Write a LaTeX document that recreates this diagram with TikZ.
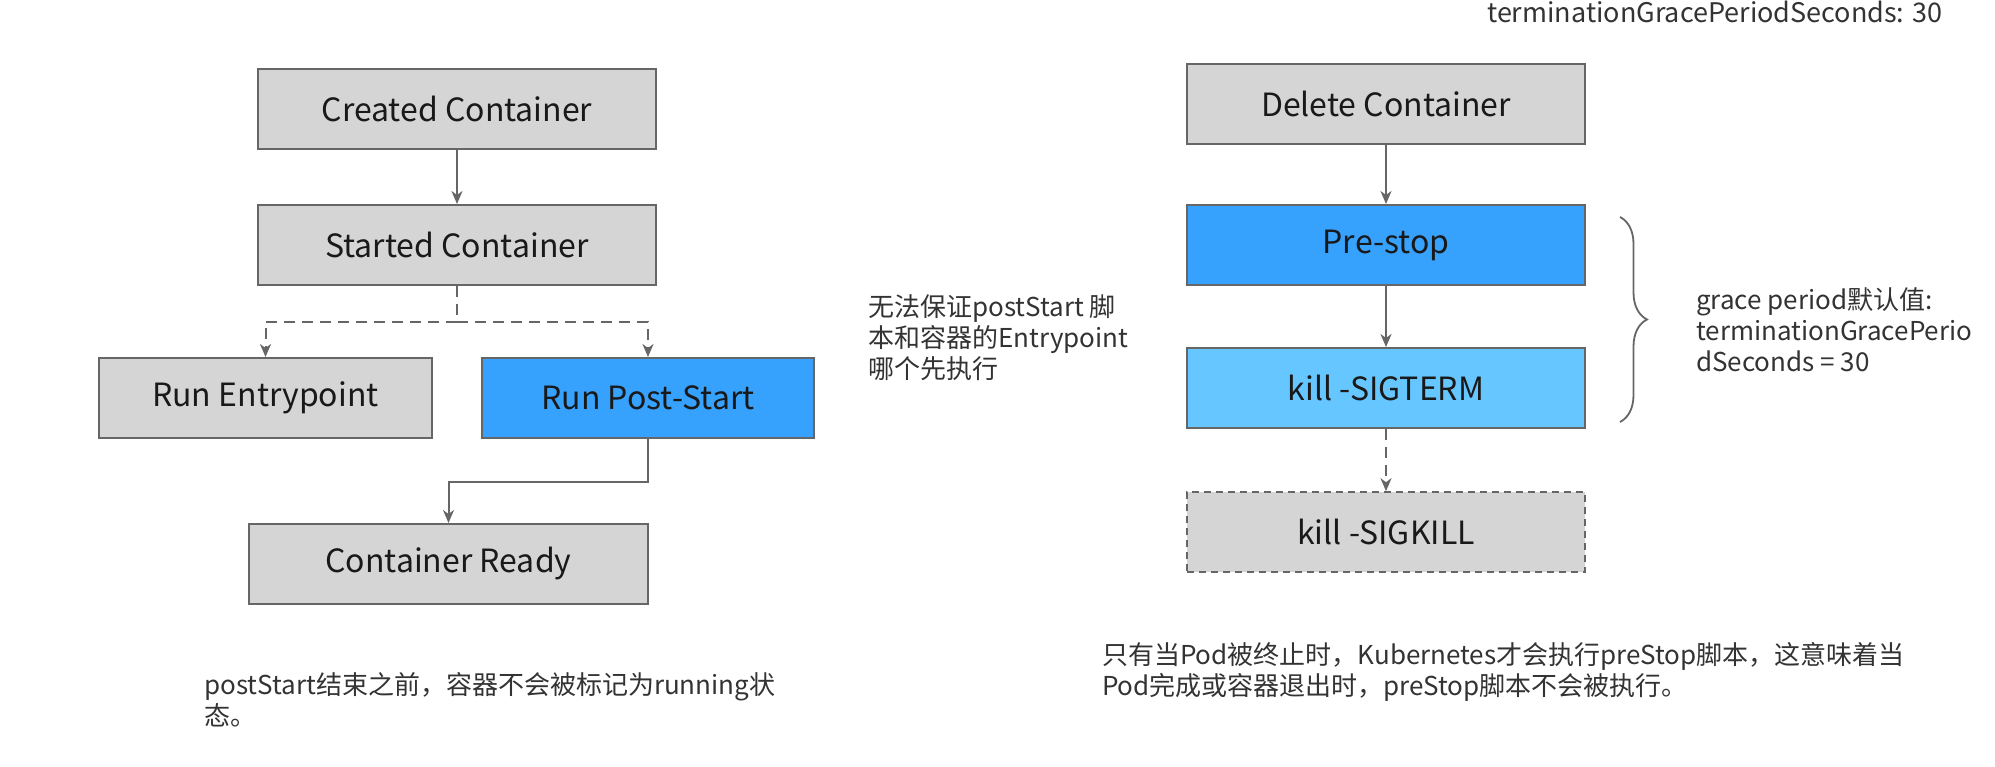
\documentclass[tikz,border=0pt]{standalone}
\usepackage{fontspec}
\setmainfont{Noto Sans CJK SC}
\usetikzlibrary{arrows.meta,decorations.pathreplacing}
\definecolor{boxgray}{HTML}{D5D5D5}
\definecolor{edgegray}{HTML}{666666}
\definecolor{hookblue}{HTML}{36A2FE}
\definecolor{termblue}{HTML}{66C6FF}
\definecolor{notegray}{HTML}{333333}

\begin{document}
\begin{tikzpicture}[
  x=1pt, y=-1pt,
  every node/.style={font=\fontsize{32}{40}\selectfont, text=black!90},
  stage/.style={draw=edgegray, line width=2pt, fill=boxgray, minimum width=398pt, minimum height=80pt, inner sep=0pt},
  hook/.style={stage, fill=hookblue},
  term/.style={stage, fill=termblue},
  flow/.style={draw=edgegray, line width=2pt, -{Stealth[length=13pt,width=11pt,inset=4pt]}},
  maybe/.style={flow, dash pattern=on 11pt off 7pt},
  note/.style={font=\fontsize{26}{31}\selectfont, text=notegray, align=left, anchor=west, inner sep=0pt}
]
\useasboundingbox (0,0) rectangle (1995,767);

% start side
\node[stage] (created) at (457,109) {Created Container};
\node[stage] (started) at (457,245) {Started Container};
\node[stage, minimum width=333pt] (entry) at (265.5,398) {Run Entrypoint};
\node[hook, minimum width=332pt] (poststart) at (648,398) {Run Post-Start};
\node[stage, minimum width=399pt] (ready) at (448.5,564) {Container Ready};

\draw[flow] (created) -- (started);
\draw[maybe] (started.south) -- ++(0,36) -| (entry.north);
\draw[maybe] (started.south) -- ++(0,36) -| (poststart.north);
\draw[flow] (poststart.south) -- ++(0,43) -| (ready.north);

% stop side
\node[stage] (delete) at (1386,104) {Delete Container};
\node[hook] (prestop) at (1386,245) {Pre-stop};
\node[term] (sigterm) at (1386,388) {kill -SIGTERM};
\node[stage, dash pattern=on 7pt off 5pt, line width=1.6pt] (sigkill) at (1386,532) {kill -SIGKILL};

\draw[flow] (delete) -- (prestop);
\draw[flow] (prestop) -- (sigterm);
\draw[maybe] (sigterm) -- (sigkill);

\draw[edgegray, line width=1.8pt, decorate, decoration={brace, amplitude=27pt}]
  ([xshift=34pt,yshift=-13pt]prestop.north east) -- ([xshift=34pt,yshift=7pt]sigterm.south east);

% notes
\node[note, font=\fontsize{27}{31}\selectfont, anchor=base west] (gracetop) at (1487,23) {terminationGracePeriodSeconds: 30};
\node[note] (ordernote) at (868,338) {无法保证postStart 脚\\本和容器的Entrypoint\\哪个先执行};
\node[note] (gracenote) at (1696,330) {grace period默认值:\\terminationGracePerio\\dSeconds = 30};
\node[note] (startnote) at (204,700) {postStart结束之前，容器不会被标记为running状\\态。};
\node[note] (stopnote) at (1102,672) {只有当Pod被终止时，Kubernetes才会执行preStop脚本，这意味着当\\Pod完成或容器退出时，preStop脚本不会被执行。};

\end{tikzpicture}
\end{document}
